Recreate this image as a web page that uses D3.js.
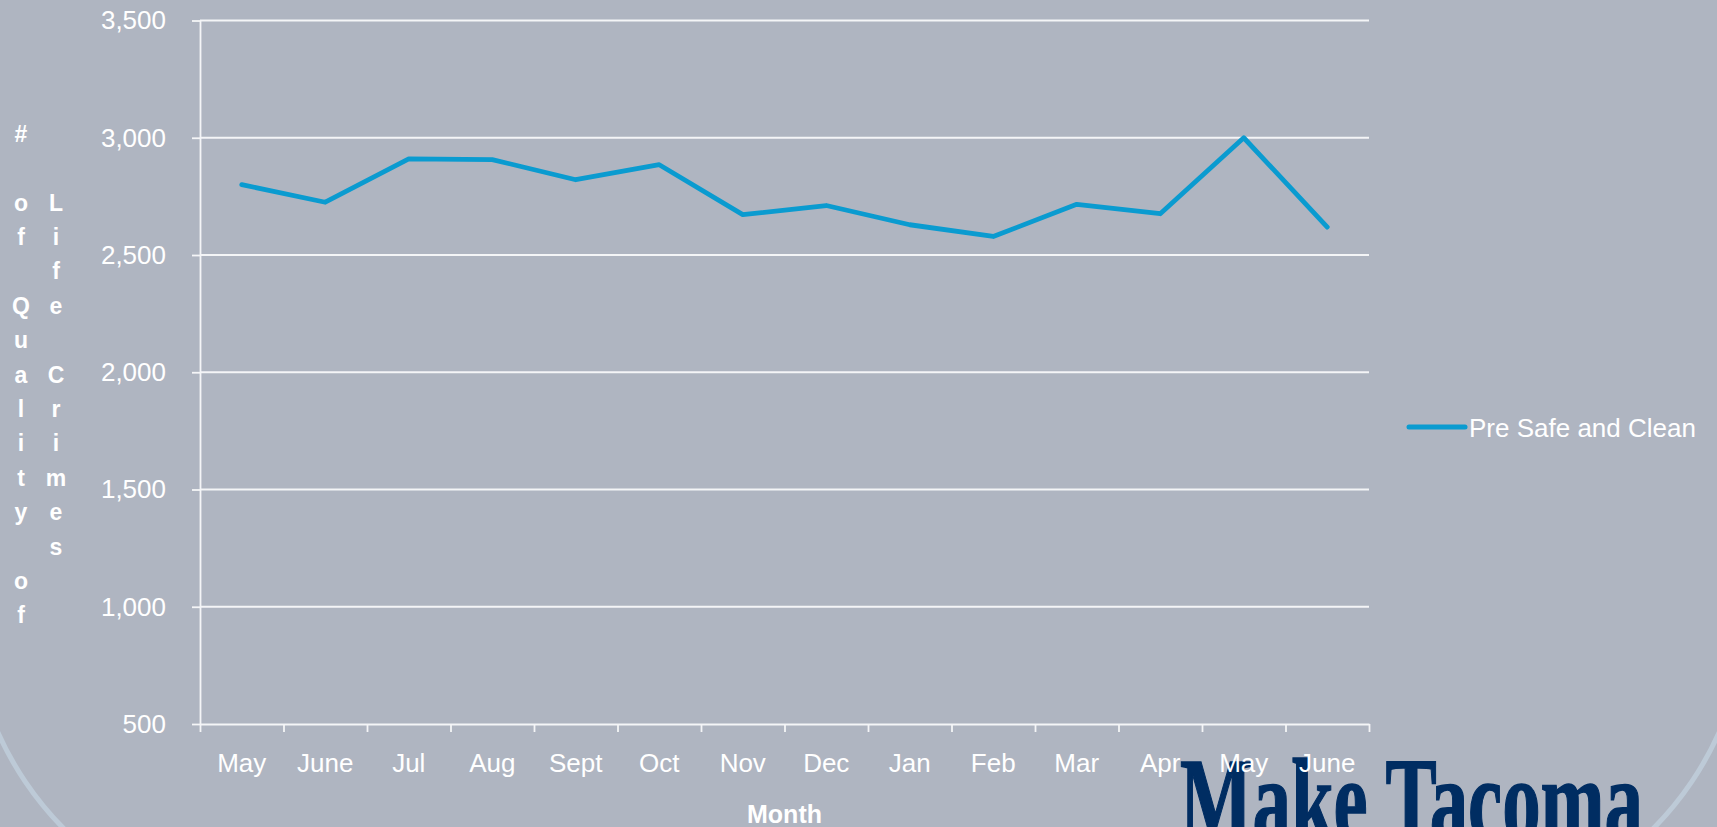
<!DOCTYPE html>
<html>
<head>
<meta charset="utf-8">
<script src="https://cdn.jsdelivr.net/npm/d3@7"></script>
<style>
  body { margin: 0; background: #afb5c1; }
  svg { display: block; font-family: "Liberation Sans", Arial, sans-serif; }
</style>
</head>
<body>
<svg width="1717" height="827"></svg>
<script>
// data
var months = ["May", "June", "Jul", "Aug", "Sept", "Oct", "Nov", "Dec", "Jan", "Feb", "Mar", "Apr", "May", "June"];
var preSafeClean = [2800, 2725, 2910, 2907, 2821, 2885, 2672, 2711, 2629, 2579, 2716, 2676, 3000, 2619];
var yTicks = [500, 1000, 1500, 2000, 2500, 3000, 3500];
var seriesName = "Pre Safe and Clean";
var yTitle = "# of Quality of Life Crimes";
var xTitle = "Month";
var logoText = "Make Tacoma";

// select svg, set margins
var svg = d3.select("svg"),
  margin = {top: 20.5, bottom: 103, left: 200, right: 348},
  width = +svg.attr("width") - margin.left - margin.right,
  height = +svg.attr("height") - margin.top - margin.bottom;

var blue = "#0a9bd0";

// slide decoration arcs
var deco = d3.arc().innerRadius(320.5).outerRadius(325.5);
svg.append("path")
  .attr("transform", "translate(293,601)")
  .attr("d", deco({startAngle: 220 * Math.PI / 180, endAngle: 252 * Math.PI / 180}))
  .attr("fill", "#bdcad7");
svg.append("path")
  .attr("transform", "translate(1424,601)")
  .attr("d", deco({startAngle: 108 * Math.PI / 180, endAngle: 140 * Math.PI / 180}))
  .attr("fill", "#bdcad7");

// logo sits under the tick labels
svg.append("text")
  .attr("x", 1180)
  .attr("y", 840)
  .attr("textLength", 463)
  .attr("lengthAdjust", "spacingAndGlyphs")
  .style("font-family", "'Liberation Serif', serif")
  .style("font-weight", "bold")
  .style("font-size", "118px")
  .attr("fill", "#002d62")
  .attr("stroke", "#002d62")
  .attr("stroke-width", 1.5)
  .text(logoText);

var g = svg.append("g").attr("transform", "translate(" + margin.left + "," + margin.top + ")");

// scales
var x = d3.scaleBand().domain(d3.range(months.length)).range([0, width]);
var xEdge = d3.scaleLinear().domain([0, months.length]).range([0, width]);
var y = d3.scaleLinear().domain([500, 3500]).range([height, 0]);

// gridlines
g.append("g")
  .selectAll("line")
  .data(yTicks.slice(1))
  .enter().append("line")
  .attr("x1", 0)
  .attr("x2", width)
  .attr("y1", function(d) { return y(d); })
  .attr("y2", function(d) { return y(d); })
  .attr("stroke", "#f4f5f7")
  .attr("stroke-width", 1.8);

// y axis
var yAxis = g.append("g")
  .call(d3.axisLeft(y).tickValues(yTicks).tickFormat(d3.format(",")).tickSize(8).tickSizeOuter(0).tickPadding(26));
yAxis.select(".domain").attr("stroke", "#f4f5f7").attr("stroke-width", 1.8);
yAxis.selectAll(".tick line").attr("stroke", "#f4f5f7").attr("stroke-width", 1.8);
yAxis.selectAll(".tick text")
  .attr("fill", "#fff")
  .style("font-size", "26px")
  .style("font-family", "'Liberation Sans', Arial, sans-serif");

// x axis with ticks between categories
var xAxis = g.append("g")
  .attr("transform", "translate(0," + height + ")")
  .call(d3.axisBottom(xEdge).tickValues(d3.range(months.length + 1)).tickFormat("").tickSize(8).tickSizeOuter(0));
xAxis.select(".domain").attr("stroke", "#f4f5f7").attr("stroke-width", 1.8);
xAxis.selectAll(".tick line").attr("stroke", "#f4f5f7").attr("stroke-width", 1.8);

var xLabels = g.append("g")
  .attr("transform", "translate(0," + height + ")")
  .call(d3.axisBottom(x).tickSize(0).tickPadding(30).tickFormat(function(i) { return months[i]; }));
xLabels.select(".domain").remove();
xLabels.selectAll(".tick text")
  .attr("fill", "#fff")
  .style("font-size", "26px")
  .style("font-family", "'Liberation Sans', Arial, sans-serif");

// the line
var line = d3.line()
  .x(function(d, i) { return x(i) + x.bandwidth() / 2; })
  .y(function(d) { return y(d); });

g.append("path")
  .datum(preSafeClean)
  .attr("fill", "none")
  .attr("stroke", blue)
  .attr("stroke-width", 4.8)
  .attr("stroke-linejoin", "round")
  .attr("stroke-linecap", "round")
  .attr("d", line);

// x title
svg.append("text")
  .attr("x", margin.left + width / 2)
  .attr("y", 823)
  .attr("text-anchor", "middle")
  .attr("fill", "#fff")
  .style("font-weight", "bold")
  .style("font-size", "25px")
  .text(xTitle);

// y title, stacked letters in two columns
var col1 = yTitle.slice(0, 15).split(""),
  col2 = yTitle.slice(16).split(""),
  step = 34.4;
var off2 = (col1.length - col2.length) / 2;
var yt = svg.append("g")
  .attr("fill", "#fff")
  .style("font-weight", "bold")
  .style("font-size", "23px")
  .attr("text-anchor", "middle");
yt.selectAll("text.c1")
  .data(col1)
  .enter().append("text")
  .attr("class", "c1")
  .attr("x", 21)
  .attr("y", function(d, i) { return 141.7 + i * step; })
  .text(function(d) { return d; });
yt.selectAll("text.c2")
  .data(col2)
  .enter().append("text")
  .attr("class", "c2")
  .attr("x", 56)
  .attr("y", function(d, i) { return 141.7 + (i + off2) * step; })
  .text(function(d) { return d; });

// legend
var legend = svg.append("g").attr("transform", "translate(1409,427)");
legend.append("line")
  .attr("x1", 0)
  .attr("x2", 56)
  .attr("stroke", blue)
  .attr("stroke-width", 5)
  .attr("stroke-linecap", "round");
legend.append("text")
  .attr("x", 60)
  .attr("y", 9.5)
  .attr("fill", "#fff")
  .style("font-size", "26px")
  .text(seriesName);
</script>
</body>
</html>
